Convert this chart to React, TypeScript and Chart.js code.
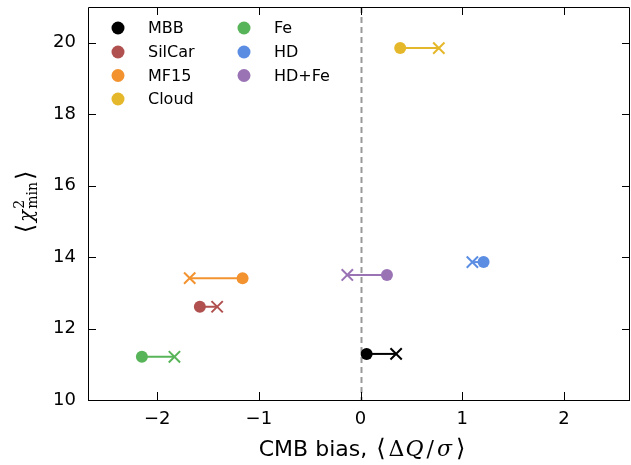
import React, { useEffect, useRef } from 'react';
import { Chart, registerables } from 'chart.js';
Chart.register(...registerables);

const models = ['MBB', 'SilCar', 'MF15', 'Cloud', 'Fe', 'HD', 'HD+Fe'];
const colors = ['#000000', '#b0504f', '#f39330', '#e5b82b', '#58b458', '#5b8de3', '#9a73b5'];
const circleX = [0.06, -1.58, -1.16, 0.39, -2.15, 1.21, 0.26];
const crossX = [0.35, -1.41, -1.68, 0.77, -1.83, 1.1, -0.13];
const chi2 = [11.29, 12.61, 13.41, 19.85, 11.21, 13.86, 13.5];
const xTicks = [-2, -1, 0, 1, 2];
const yTicks = [10, 12, 14, 16, 18, 20];

type Seg = { t: string; f: string; dy?: number; stack?: boolean; gap?: number };

function drawRich(ctx: CanvasRenderingContext2D, segs: Seg[], cx: number, y: number) {
  const pos: number[] = [];
  let cursor = 0;
  let prevStart = 0;
  let prevW = 0;
  segs.forEach((s) => {
    ctx.font = s.f;
    const w = ctx.measureText(s.t).width;
    if (s.stack) {
      const m = Math.max(prevW, w);
      pos.push(prevStart);
      cursor = prevStart + m;
      prevW = m;
    } else {
      cursor += s.gap || 0;
      pos.push(cursor);
      prevStart = cursor;
      prevW = w;
      cursor += w;
    }
  });
  const x0 = cx - cursor / 2;
  segs.forEach((s, i) => {
    ctx.font = s.f;
    ctx.fillText(s.t, x0 + pos[i], y + (s.dy || 0));
  });
}

const fmt = (v: number) => (v < 0 ? '\u2212' + Math.abs(v) : String(v));
const zeroPad = () => ({ left: 0, top: 0, right: 0, bottom: 0 });

const decorPlugin = {
  id: 'decor',
  beforeDatasetsDraw(chart: any) {
    const { ctx, chartArea, scales } = chart;
    const x0 = Math.round(scales.x.getPixelForValue(0)) + 0.5;
    ctx.save();
    ctx.strokeStyle = '#999999';
    ctx.lineWidth = 2;
    ctx.setLineDash([6, 4]);
    ctx.beginPath();
    ctx.moveTo(x0, chartArea.top);
    ctx.lineTo(x0, chartArea.bottom);
    ctx.stroke();
    ctx.restore();
  },
  afterDraw(chart: any) {
    const { ctx, chartArea, scales } = chart;
    const { left, right, top, bottom } = chartArea;
    ctx.save();
    ctx.strokeStyle = '#000';
    ctx.lineWidth = 1;
    ctx.beginPath();
    ctx.rect(left + 0.5, top + 0.5, right - left - 1, bottom - top);
    ctx.stroke();
    const tl = 8;
    ctx.beginPath();
    xTicks.forEach((v) => {
      const px = Math.round(scales.x.getPixelForValue(v)) + 0.5;
      ctx.moveTo(px, bottom);
      ctx.lineTo(px, bottom - tl);
      ctx.moveTo(px, top);
      ctx.lineTo(px, top + tl);
    });
    yTicks.forEach((v) => {
      const py = Math.round(scales.y.getPixelForValue(v)) + 0.5;
      ctx.moveTo(left, py);
      ctx.lineTo(left + tl, py);
      ctx.moveTo(right, py);
      ctx.lineTo(right - tl, py);
    });
    ctx.stroke();

    // legend
    ctx.font = '16px "DejaVu Sans"';
    ctx.textBaseline = 'middle';
    ctx.textAlign = 'left';
    const rowY = [28, 52, 75.5, 99];
    models.forEach((m, i) => {
      const col = i < 4 ? 0 : 1;
      const row = i < 4 ? i : i - 4;
      const mx = col === 0 ? 118 : 244;
      const tx = col === 0 ? 148 : 274;
      const my = rowY[row];
      ctx.fillStyle = colors[i];
      ctx.beginPath();
      ctx.arc(mx, my, 6.5, 0, Math.PI * 2);
      ctx.fill();
      ctx.fillStyle = '#000';
      ctx.fillText(m, tx, my + 1);
    });

    // axis titles
    ctx.textBaseline = 'alphabetic';
    ctx.fillStyle = '#000';
    const serif = '"DejaVu Serif"';
    drawRich(
      ctx,
      [
        { t: 'CMB bias, ', f: '22px "DejaVu Sans"' },
        { t: '\u27E8', f: '24px ' + serif, gap: 2 },
        { t: '\u0394', f: '22px ' + serif, gap: 3 },
        { t: 'Q', f: 'italic 22px ' + serif, gap: 1 },
        { t: '/', f: '22px ' + serif, gap: 3 },
        { t: '\u03C3', f: 'italic 22px ' + serif, gap: 3 },
        { t: '\u27E9', f: '24px ' + serif, gap: 4 },
      ],
      362,
      456
    );
    ctx.save();
    ctx.translate(33, 202);
    ctx.rotate(-Math.PI / 2);
    drawRich(
      ctx,
      [
        { t: '\u27E8', f: '24px ' + serif },
        { t: '\u03C7', f: 'italic 20px ' + serif, gap: 2 },
        { t: '2', f: '14px ' + serif, dy: -9, gap: 1 },
        { t: 'min', f: '14px ' + serif, dy: 4, stack: true },
        { t: '\u27E9', f: '24px ' + serif, gap: 2 },
      ],
      0,
      0
    );
    ctx.restore();
    ctx.restore();
  },
};

export default function App() {
  const ref = useRef<HTMLCanvasElement>(null);
  useEffect(() => {
    document.body.style.margin = '0';
    const datasets = models.map((m, i) => ({
      label: m,
      data: [
        { x: circleX[i], y: chi2[i] },
        { x: crossX[i], y: chi2[i] },
      ],
      borderColor: colors[i],
      backgroundColor: colors[i],
      borderWidth: 2,
      showLine: true,
      pointStyle: ['circle', 'crossRot'],
      pointRadius: [6, 8],
      pointBorderWidth: [0, 2],
      pointHoverRadius: [6, 8],
    }));
    const chart = new Chart(ref.current!, {
      type: 'scatter',
      data: { datasets: datasets as any },
      options: {
        responsive: false,
        animation: false,
        devicePixelRatio: 1,
        layout: { autoPadding: false, padding: { left: 0, right: 1, top: 7, bottom: 0 } },
        plugins: { legend: { display: false }, tooltip: { enabled: false } },
        scales: {
          x: {
            type: 'linear',
            min: -2.68,
            max: 2.65,
            afterBuildTicks: (s: any) => {
              s.ticks = xTicks.map((v) => ({ value: v }));
            },
            afterFit: (s: any) => {
              s.height = 65;
              s.paddingLeft = 0;
              s.paddingRight = 0;
              s.getPadding = zeroPad;
            },
            grid: { display: false, drawTicks: false },
            border: { display: false },
            ticks: {
              callback: (v: any) => fmt(Number(v)),
              font: { family: 'DejaVu Sans', size: 18 },
              color: '#000',
              padding: 9,
              maxRotation: 0,
            },
          },
          y: {
            type: 'linear',
            min: 10,
            max: 21,
            afterBuildTicks: (s: any) => {
              s.ticks = yTicks.map((v) => ({ value: v }));
            },
            afterFit: (s: any) => {
              s.width = 88;
              s.paddingTop = 0;
              s.paddingBottom = 0;
              s.getPadding = zeroPad;
            },
            grid: { display: false, drawTicks: false },
            border: { display: false },
            ticks: {
              callback: (v: any) => fmt(Number(v)),
              font: { family: 'DejaVu Sans', size: 18 },
              color: '#000',
              padding: 12,
            },
          },
        },
      },
      plugins: [decorPlugin],
    });
    return () => chart.destroy();
  }, []);
  return <canvas ref={ref} width={631} height={465} style={{ display: 'block' }} />;
}
